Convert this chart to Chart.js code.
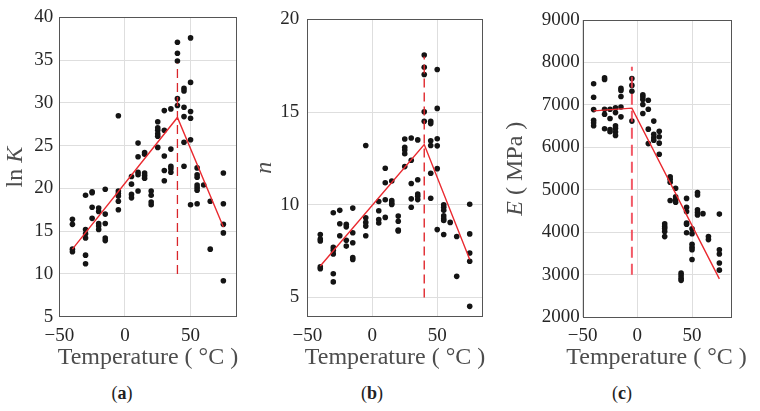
<!DOCTYPE html>
<html>
<head>
<meta charset="utf-8">
<script src="https://cdn.jsdelivr.net/npm/chart.js@4.4.1/dist/chart.umd.min.js"></script>
<style>
  body { margin: 0; background: #fff; width: 760px; height: 411px; position: relative; overflow: hidden; font-family: "Liberation Serif", serif; }
  canvas { position: absolute; top: 0; }
  .cap { position: absolute; top: 382px; font-size: 18px; color: #222; transform: translateX(-50%); line-height: 22px; }
</style>
</head>
<body>
<canvas id="chartK" width="250" height="372" style="left:0"></canvas>
<canvas id="chartN" width="250" height="372" style="left:250px"></canvas>
<canvas id="chartE" width="260" height="372" style="left:500px"></canvas>
<div class="cap" style="left:122px">(<b>a</b>)</div>
<div class="cap" style="left:372px">(<b>b</b>)</div>
<div class="cap" style="left:622px">(<b>c</b>)</div>
<script>
// test temperatures (°C), one entry per group of points below
const tempLevels = [-40, -30, -25, -20, -15, -5, 5, 10, 15, 20, 25, 30, 35, 40, 45, 50, 55, 60, 65, 75];

// ln K readings at each temperature
const lnK = [
  [16.4, 15.8, 12.9, 12.6],
  [19.2, 15.2, 14.7, 14.2, 12.2, 11.2],
  [19.6, 19.5, 17.8, 16.5],
  [17.7, 17.3, 15.9, 15.6, 15.2],
  [19.9, 17.0, 15.9, 14.2, 13.9],
  [28.5, 19.7, 19.4, 19.1, 18.5, 17.5],
  [21.4, 20.5, 19.3, 18.9],
  [25.3, 23.7, 21.9, 21.6, 19.7],
  [24.2, 24.0, 21.8, 21.5, 21.2],
  [19.7, 19.2, 18.4, 18.1],
  [27.8, 27.1, 26.8, 26.4, 26.1, 24.8],
  [29.1, 26.8, 23.8, 22.1, 20.9],
  [29.3, 24.6, 22.6, 22.3, 21.9],
  [37.1, 35.8, 34.9, 30.5, 29.7],
  [31.7, 31.4, 29.5, 28.4, 25.4, 22.6],
  [37.6, 32.4, 29.0, 28.2, 25.7, 18.1],
  [22.4, 21.6, 21.3, 20.4, 20.1, 19.8, 18.2],
  [20.4],
  [18.5, 12.9],
  [21.8, 18.2, 15.8, 14.8, 9.2]
];

// n readings
const nVals = [
  [8.4, 8.15, 8.05, 6.65, 6.55],
  [9.57, 7.7, 7.55, 7.35, 6.28, 5.84],
  [9.7, 8.98, 8.33],
  [8.95, 8.81, 8.09, 7.77],
  [9.82, 8.49, 7.95, 7.15, 7.05],
  [13.2, 9.3, 9.05, 8.85, 8.33],
  [10.18, 9.68, 9.2, 9.02],
  [11.97, 11.19, 10.27, 9.32],
  [11.28, 10.23, 10.1, 10.02],
  [9.39, 9.11, 8.63, 8.59],
  [13.55, 13.1, 12.95, 12.75, 12.06],
  [13.6, 12.4, 11.15, 10.32, 9.87],
  [13.5, 11.35, 10.58, 10.46, 10.28],
  [18.08, 17.42, 17.03, 15.02, 14.5],
  [14.5, 14.38, 13.45, 13.2, 11.7, 10.35],
  [17.3, 15.2, 13.56, 13.18, 11.95, 8.66],
  [10.0, 9.87, 9.7, 9.4, 9.25, 9.15, 8.4],
  [9.05],
  [8.29, 6.14],
  [10.03, 8.43, 7.4, 6.95, 4.52]
];

// E readings (MPa)
const eVals = [
  [7500, 7180, 6890, 6640, 6580, 6510],
  [7640, 7600, 6900, 6780, 6440],
  [6900, 6680, 6420, 6370],
  [6930, 6820, 6510, 6450, 6360, 6280],
  [7390, 7340, 7200, 6950, 6720],
  [7620, 7460, 7320, 6620],
  [7240, 7190, 7130, 7010, 6800],
  [7110, 6900, 6430, 6090],
  [6620, 6310, 6230, 6170],
  [6380, 6250, 6100, 5840],
  [4200, 4140, 4090, 4020, 3900],
  [5310, 5250, 5180, 4750],
  [5040, 4840, 4770, 4710],
  [3040, 2980, 2920, 2870],
  [4800, 4590, 4490, 4220, 4190, 3990],
  [4085, 3970, 3720, 3650, 3590, 3360],
  [4940, 4880, 4530, 4470, 4410],
  [4440],
  [3900, 3830],
  [4430, 3590, 3490, 3280, 3110]
];

// bilinear fits and break temperature
const lnKFitT = [-40, 40, 75];
const lnKFitV = [12.9, 28.3, 15.5];
const lnKBreakT = 40;
const lnKBreakV = [10, 34.6];

const nFitT = [-40, 40, 75];
const nFitV = [6.7, 13.25, 7.05];
const nBreakT = 40;
const nBreakV = [5, 18.0];

const eFitT = [-40, -5, 75];
const eFitV = [6860, 6925, 2905];
const eBreakT = -5;
const eBreakV = [3000, 7900];

const xTitle = 'Temperature ( °C )';

const SERIF = "'Liberation Serif', 'Times New Roman', serif";
Chart.defaults.font.family = SERIF;

const framePlugin = {
  id: 'frame',
  afterDraw(chart) {
    const a = chart.chartArea, ctx = chart.ctx;
    ctx.save();
    ctx.strokeStyle = '#555';
    ctx.lineWidth = 1;
    ctx.strokeRect(Math.round(a.left) + 0.5, Math.round(a.top) + 0.5,
      Math.round(a.right - a.left), Math.round(a.bottom - a.top));
    ctx.restore();
  }
};

// writes text made of plain and italic pieces, centred on (0,0)
function drawParts(ctx, parts, size) {
  let total = 0;
  parts.forEach(p => {
    ctx.font = (p.italic ? 'italic ' : '') + size + 'px ' + SERIF;
    total += ctx.measureText(p.text).width;
  });
  let x = -total / 2;
  parts.forEach(p => {
    ctx.font = (p.italic ? 'italic ' : '') + size + 'px ' + SERIF;
    ctx.fillText(p.text, x, 0);
    x += ctx.measureText(p.text).width;
  });
}

const titlesPlugin = {
  id: 'titles',
  afterDraw(chart, args, o) {
    const a = chart.chartArea, ctx = chart.ctx;
    ctx.save();
    ctx.fillStyle = '#4d4d4d';
    ctx.textBaseline = 'middle';
    ctx.translate(o.yX, (a.top + a.bottom) / 2);
    ctx.rotate(-Math.PI / 2);
    drawParts(ctx, o.yParts, 24);
    ctx.restore();

    ctx.save();
    ctx.fillStyle = '#4d4d4d';
    ctx.textBaseline = 'middle';
    ctx.translate((a.left + a.right) / 2, o.xY);
    drawParts(ctx, [{ text: xTitle }], 24);
    ctx.restore();
  }
};

function minus(v) {
  return String(v).replace('-', '\u2212');
}

function makePanel(id, p) {
  const points = [];
  tempLevels.forEach((t, i) => {
    p.values[i].forEach(v => points.push({ x: t, y: v }));
  });

  new Chart(document.getElementById(id), {
    type: 'scatter',
    data: {
      datasets: [
        {
          data: points,
          backgroundColor: '#141414',
          borderWidth: 0,
          pointRadius: 2.8,
          order: 3
        },
        {
          type: 'line',
          data: p.fitT.map((t, i) => ({ x: t, y: p.fitV[i] })),
          borderColor: '#ea2a30',
          borderWidth: 1.4,
          pointRadius: 0,
          order: 1
        },
        {
          type: 'line',
          data: p.breakV.map(v => ({ x: p.breakT, y: v })),
          borderColor: p.dashColor,
          borderWidth: p.dashWidth,
          borderDash: p.dash,
          pointRadius: 0,
          order: 2
        }
      ]
    },
    options: {
      responsive: false,
      animation: false,
      layout: { padding: { top: p.top, right: p.right, left: 0, bottom: 0 } },
      plugins: {
        legend: { display: false },
        tooltip: { enabled: false },
        titles: { yParts: p.yParts, yX: p.titleX, xY: 358 }
      },
      scales: {
        x: {
          type: 'linear',
          min: -50,
          max: 85,
          afterFit: s => { s.height = p.xH; },
          grid: { color: '#dedede', drawTicks: false },
          border: { display: false },
          ticks: {
            stepSize: 50,
            includeBounds: false,
            maxRotation: 0,
            padding: p.xPad,
            color: '#262626',
            font: { family: SERIF, size: 19 },
            callback: v => minus(v)
          }
        },
        y: {
          min: p.yMin,
          max: p.yMax,
          afterFit: s => { s.width = p.yW; },
          grid: { color: '#dedede', drawTicks: false },
          border: { display: false },
          ticks: {
            stepSize: p.yStep,
            includeBounds: false,
            padding: p.yPad,
            color: '#262626',
            font: { family: SERIF, size: 19 },
            callback: v => String(v)
          }
        }
      }
    },
    plugins: [framePlugin, titlesPlugin]
  });
}

function drawAll() {
  makePanel('chartK', {
    values: lnK, fitT: lnKFitT, fitV: lnKFitV, breakT: lnKBreakT, breakV: lnKBreakV,
    dashColor: '#d9252b', dashWidth: 1.3, dash: [9, 5],
    yMin: 5, yMax: 40, yStep: 5,
    top: 15.7, right: 13.5, yW: 59.3, xH: 55.3, xPad: 8, yPad: 6, titleX: 16,
    yParts: [{ text: 'ln ' }, { text: 'K', italic: true }]
  });

  makePanel('chartN', {
    values: nVals, fitT: nFitT, fitV: nFitV, breakT: nBreakT, breakV: nBreakV,
    dashColor: '#e0262c', dashWidth: 1.4, dash: [9, 5],
    yMin: 4, yMax: 20, yStep: 5,
    top: 15.7, right: 17.3, yW: 57.3, xH: 56, xPad: 8.5, yPad: 8, titleX: 15,
    yParts: [{ text: 'n', italic: true }]
  });

  makePanel('chartE', {
    values: eVals, fitT: eFitT, fitV: eFitV, breakT: eBreakT, breakV: eBreakV,
    dashColor: 'rgba(240, 60, 75, 0.85)', dashWidth: 2, dash: [11, 6],
    yMin: 2000, yMax: 9000, yStep: 1000,
    top: 20, right: 29.7, yW: 82.7, xH: 54.7, xPad: 7, yPad: 3, titleX: 16,
    yParts: [{ text: 'E', italic: true }, { text: ' ( MPa )' }]
  });
}

if (document.fonts && document.fonts.load) {
  Promise.all([
    document.fonts.load("19px 'Liberation Serif'"),
    document.fonts.load("italic 24px 'Liberation Serif'")
  ]).then(drawAll, drawAll);
} else {
  drawAll();
}
</script>
</body>
</html>
